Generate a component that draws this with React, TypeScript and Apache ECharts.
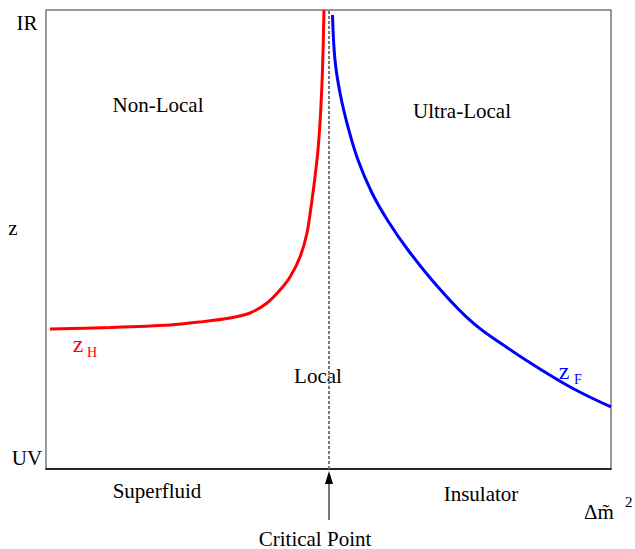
import { useEffect, useRef } from "react";
import * as echarts from "echarts";

// x: tuning parameter (critical point at 0), y: scale z from UV (0) to IR (10)
const zHx = [-4.929, -3.867, -2.805, -2.274, -1.743, -1.389, -1.088, -0.858, -0.681, -0.504, -0.381, -0.292, -0.239, -0.186, -0.142, -0.106, -0.08];
const zHy = [3.05, 3.083, 3.137, 3.203, 3.29, 3.399, 3.617, 3.9, 4.183, 4.619, 5.142, 5.861, 6.362, 6.95, 7.712, 8.693, 10.0];
const zFx = [0.071, 0.115, 0.204, 0.345, 0.522, 0.77, 1.053, 1.407, 1.938, 2.558, 3.159, 3.743, 4.327, 5.0];
const zFy = [9.891, 8.911, 8.192, 7.451, 6.732, 6.013, 5.403, 4.771, 3.965, 3.181, 2.647, 2.179, 1.754, 1.351];
const criticalX = 0;
const xRange = [-5, 5];
const yRange = [0, 10];

const FONT = "'Liberation Serif', 'Times New Roman', serif";

export default function App() {
  const ref = useRef<HTMLDivElement>(null);
  useEffect(() => {
    const chart = echarts.init(ref.current!, null, { renderer: "svg" });
    const txt = (text: string, x: number, y: number, size = 21, color = "#000", align = "center") => ({
      type: "text",
      x,
      y,
      silent: true,
      style: {
        text,
        fill: color,
        fontFamily: FONT,
        fontSize: size,
        align,
        verticalAlign: "middle",
      },
    });
    chart.setOption({
      animation: false,
      backgroundColor: "#fff",
      textStyle: { fontFamily: FONT },
      grid: {
        left: 46,
        top: 10,
        width: 565,
        height: 459,
        show: true,
        borderColor: "#777",
        borderWidth: 1.5,
        backgroundColor: "transparent",
      },
      xAxis: {
        type: "value",
        min: xRange[0],
        max: xRange[1],
        axisLine: { show: true, onZero: false, lineStyle: { color: "#000", width: 1.5 } },
        axisTick: { show: false },
        axisLabel: { show: false },
        splitLine: { show: false },
      },
      yAxis: {
        type: "value",
        min: yRange[0],
        max: yRange[1],
        axisLine: { show: false },
        axisTick: { show: false },
        axisLabel: { show: false },
        splitLine: { show: false },
      },
      series: [
        {
          type: "line",
          name: "zH",
          data: zHx.map((x, i) => [x, zHy[i]]),
          showSymbol: false,
          smooth: 0.3,
          lineStyle: { color: "#ff0000", width: 3 },
          markLine: {
            silent: true,
            symbol: ["none", "none"],
            label: { show: false },
            lineStyle: { color: "#777", type: [3, 2], width: 2 },
            data: [{ xAxis: criticalX }],
          },
        },
        {
          type: "line",
          name: "zF",
          data: zFx.map((x, i) => [x, zFy[i]]),
          showSymbol: false,
          smooth: 0.4,
          lineStyle: { color: "#0000ff", width: 3 },
        },
      ],
      graphic: [
        txt("IR", 27, 22.5),
        txt("UV", 27, 457.5),
        txt("z", 13, 228),
        txt("Non-Local", 158, 105),
        txt("Ultra-Local", 462, 110.5),
        txt("Local", 318, 376),
        txt("Superfluid", 157, 491),
        txt("Insulator", 481, 494),
        txt("Critical Point", 315, 538.5),
        txt("Δm\u0303", 584, 512, 21, "#000", "left"),
        txt("2", 625, 502, 15, "#000", "left"),
        txt("z", 78, 344, 24, "#ff0000"),
        txt("H", 92, 352.5, 14, "#ff0000"),
        txt("z", 564, 371, 24, "#0000ff"),
        txt("F", 578, 379.5, 14, "#0000ff"),
        {
          type: "line",
          silent: true,
          shape: { x1: 329, y1: 520, x2: 329, y2: 482 },
          style: { stroke: "#777", lineWidth: 2 },
        },
        {
          type: "polygon",
          silent: true,
          shape: { points: [[329, 471], [325, 484], [333, 484]] },
          style: { fill: "#000" },
        },
      ],
    });
    return () => chart.dispose();
  }, []);
  return (
    <div
      ref={ref}
      style={{ position: "fixed", left: 0, top: 0, width: 635, height: 549, background: "#fff" }}
    />
  );
}
